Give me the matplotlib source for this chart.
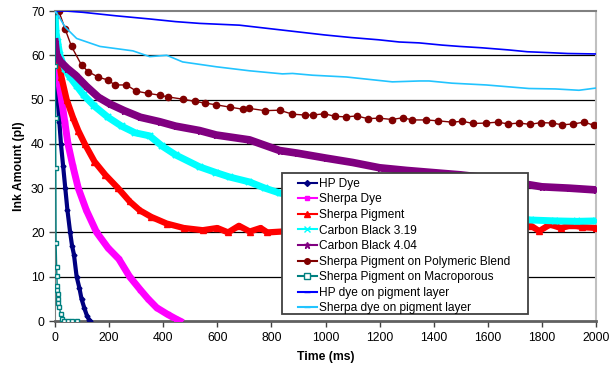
import matplotlib.pyplot as plt
from matplotlib.lines import Line2D
from matplotlib.patches import Rectangle

plt.rcParams['font.family'] = ['Liberation Sans', 'DejaVu Sans']

# HP Dye
hp_t = [0, 3, 10, 16, 22, 30, 38, 46, 56, 63, 70, 80, 90, 98, 108, 118, 126, 130]
hp_v = [66, 58, 50, 45, 40, 35, 30, 25, 20, 17, 15, 10, 7.5, 5, 3, 1.2, 0.3, 0]

# Sherpa Dye
sd_t = [0, 4, 12, 24, 36, 48, 66, 86, 116, 154, 196, 236, 276, 316, 344, 376, 416, 446, 462]
sd_v = [66, 60, 55, 50, 45, 40, 35, 30, 25, 20, 16.5, 14, 10, 7, 5, 3, 1.5, 0.5, 0]

# Sherpa Pigment
sp_t = [0, 4, 12, 24, 43, 66, 86, 110, 146, 186, 233, 276, 313, 356, 413, 476, 546, 600, 640, 680, 720, 760, 785,
        1000, 1400, 1760, 1790, 1830, 1870, 1910, 1950, 2000]
sp_v = [69, 64, 60, 55, 50, 46, 43, 40, 36, 33, 30, 27, 25, 23.5, 22, 21, 20.5, 21, 20, 21.5, 20.2, 21, 20,
        20.8, 20.8, 21.5, 20.3, 21.8, 21, 21.6, 21.2, 21]

# Carbon Black 3.19
c1_t = [0, 4, 10, 18, 36, 56, 81, 106, 146, 196, 246, 296, 350, 396, 446, 535, 596, 646, 719, 776, 830,
        1000, 1200, 1400, 1600, 1760, 1850, 1930, 2000]
c1_v = [69, 65, 63, 60, 57, 55, 53, 51, 48.5, 46, 44, 42.5, 41.8, 39.5, 37.5, 34.8, 33.5, 32.5, 31.4, 30, 28.9,
        27.2, 25.8, 24.6, 23.6, 22.8, 22.6, 22.5, 22.6]

# Carbon Black 4.04
c2_t = [0, 6, 21, 46, 76, 116, 161, 203, 256, 316, 387, 446, 535, 596, 719, 830, 896, 1000, 1100, 1200, 1300,
        1400, 1500, 1600, 1700, 1800, 1900, 2000]
c2_v = [63, 60, 58.5, 57, 55.5, 53, 50.5, 49, 47.5, 46, 45, 44, 43, 42, 40.9, 38.5, 37.9, 36.8, 35.8, 34.6, 34,
        33.5, 33, 32.3, 31.3, 30.3, 30, 29.6]

# Sherpa Pigment on Polymeric Blend
pb_t = [0, 14, 37, 61, 98, 123, 159, 196, 221, 264, 301, 343, 387, 417, 472, 516, 556, 597, 646, 696, 719, 776,
        830, 878, 926, 952, 996, 1036, 1077, 1116, 1156, 1199, 1246, 1286, 1321, 1372, 1416, 1468, 1506, 1546,
        1594, 1636, 1676, 1716, 1756, 1796, 1837, 1876, 1916, 1956, 1992]
pb_v = [70, 70, 66, 62, 57.8, 56.3, 55.1, 54.4, 53.3, 53.3, 51.9, 51.4, 51, 50.6, 50.1, 49.6, 49.2, 48.8, 48.3,
        47.8, 48, 47.5, 47.6, 46.7, 46.5, 46.5, 46.8, 46.2, 46.1, 46.3, 45.7, 45.8, 45.5, 45.9, 45.4, 45.4, 45.2,
        44.9, 45.1, 44.6, 44.7, 44.9, 44.5, 44.7, 44.4, 44.8, 44.7, 44.3, 44.5, 44.9, 44.2]

# Sherpa Pigment on Macroporous
mp_t = [0, 1, 2, 3, 4, 6, 7, 8, 9, 9.5, 10, 12, 16, 21, 26, 34, 48, 64, 80]
mp_v = [70, 57.5, 45.8, 34.5, 17.7, 12.3, 10.2, 8, 7, 6, 5, 4, 3.2, 1.5, 0.5, 0, 0, 0, 0]

# HP dye on pigment layer
hl_t = [0, 20, 40, 104, 228, 350, 446, 535, 682, 796, 896, 996, 1096, 1196, 1273, 1346, 1431, 1496, 1576,
        1679, 1746, 1826, 1896, 2000]
hl_v = [70, 70, 70, 69.7, 68.9, 68.2, 67.6, 67.2, 66.8, 66, 65.3, 64.6, 64, 63.5, 63, 62.8, 62.3, 62, 61.7,
        61.2, 60.8, 60.6, 60.4, 60.3]

# Sherpa dye on pigment layer
sl_t = [0, 12, 37, 80, 166, 288, 350, 413, 472, 597, 719, 841, 878, 952, 1077, 1247, 1347, 1383, 1468, 1594,
        1752, 1850, 1937, 2000]
sl_v = [70, 69, 66.4, 63.8, 62, 61, 59.7, 60, 58.5, 57.4, 56.5, 55.8, 55.9, 55.5, 55.1, 54, 54.2, 54.2, 53.7,
        53.3, 52.5, 52.4, 52.1, 52.6]

fig = plt.figure(figsize=(6.12, 3.68), dpi=100)
ax = fig.add_axes([55 / 612, 1 - 321 / 368, 541 / 612, 310 / 368])

# horizontal grid
for g in range(10, 70, 10):
    ax.axhline(g, color='black', lw=0.9, zorder=0.5)

ax.plot(hp_t, hp_v, color='#000080', lw=3, marker='D', ms=2.5, zorder=3)
ax.plot(sd_t, sd_v, color='#FF00FF', lw=5, marker='s', ms=3, zorder=3)
ax.plot(sp_t, sp_v, color='#FF0000', lw=4.5, marker='^', ms=4, zorder=3)
ax.plot(c1_t, c1_v, color='#00FFFF', lw=5, marker='x', ms=4, mew=1.5, zorder=3)
ax.plot(c2_t, c2_v, color='#800080', lw=5.5, marker='*', ms=5, zorder=3)
ax.plot(pb_t, pb_v, color='#800000', lw=1, marker='o', ms=4.5, zorder=4)
ax.plot(mp_t, mp_v, color='#008080', lw=1, marker='s', ms=3.5, mfc='white', mew=1, zorder=4)
ax.plot(hl_t, hl_v, color='#0000FF', lw=1.2, zorder=4)
ax.plot(sl_t, sl_v, color='#22C4FF', lw=1.2, zorder=4)

ax.set_xlim(0, 2000)
ax.set_ylim(0, 70)
ax.set_xticks(range(0, 2001, 200))
ax.set_yticks(range(0, 71, 10))
ax.tick_params(axis='both', labelsize=8.8, colors='#404040', labelcolor='black', length=4, width=1)
ax.tick_params(axis='x', pad=4)

ax.spines['top'].set_color('#808080')
ax.spines['top'].set_linewidth(1.5)
ax.spines['right'].set_color('#c0c0c0')
ax.spines['right'].set_linewidth(1.5)
ax.spines['left'].set_color('#808080')
ax.spines['bottom'].set_color('#606060')
ax.spines['bottom'].set_linewidth(2)

ax.set_xlabel('Time (ms)', fontsize=8.8, fontweight='bold', labelpad=5)
ax.set_ylabel('Ink Amount (pl)', fontsize=8.8, fontweight='bold', labelpad=4)

labels = ['HP Dye', 'Sherpa Dye', 'Sherpa Pigment', 'Carbon Black 3.19', 'Carbon Black 4.04',
          'Sherpa Pigment on Polymeric Blend', 'Sherpa Pigment on Macroporous',
          'HP dye on pigment layer', 'Sherpa dye on pigment layer']
handles = [
    Line2D([], [], color='#000080', marker='D', ms=3),
    Line2D([], [], color='#FF00FF', marker='s', ms=3.5),
    Line2D([], [], color='#FF0000', marker='^', ms=4),
    Line2D([], [], color='#00FFFF', marker='x', ms=4),
    Line2D([], [], color='#800080', marker='*', ms=5),
    Line2D([], [], color='#800000', marker='o', ms=4),
    Line2D([], [], color='#008080', marker='s', ms=4, mfc='white'),
    Line2D([], [], color='#0000FF', marker='_', ms=4),
    Line2D([], [], color='#22C4FF', marker='_', ms=4),
]

# legend box drawn separately so the padding matches
box = Rectangle((0.4196, 0.0226), 0.4547, 0.4548, transform=ax.transAxes, facecolor='white',
                edgecolor='#404040', lw=1.3, zorder=9, clip_on=False)
ax.add_patch(box)
leg = ax.legend(handles, labels, loc='upper left', bbox_to_anchor=(0.449, 0.462), fontsize=8.6,
                frameon=False, handlelength=1.6, handletextpad=0.2, labelspacing=0.3, borderpad=0,
                borderaxespad=0)
leg.set_zorder(10)

fig.savefig('out.png', dpi=100)
